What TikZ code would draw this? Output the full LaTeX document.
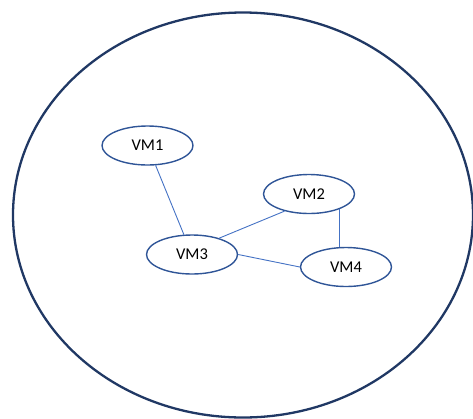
\documentclass[tikz,border=0pt]{standalone}
\usepackage{fontspec}
\setmainfont{Carlito}
\usetikzlibrary{positioning,shapes.geometric}

\definecolor{hostblue}{HTML}{203864}
\definecolor{vmblue}{HTML}{2F5597}
\definecolor{linkblue}{HTML}{4472C4}

\begin{document}
\begin{tikzpicture}[
  x=1pt, y=-1pt,
  vmstyle/.style={
        draw=vmblue,
        line width=1.4pt,
        ellipse,
        minimum width=91pt,
        minimum height=39pt,
        inner sep=0pt,
        font=\fontsize{16.5}{18}\selectfont
  },
  linkstyle/.style={
        draw=linkblue,
        line width=0.9pt
  }
]

    \useasboundingbox (0,0) rectangle (473,418);

    % the host
    \draw[hostblue, line width=2.3pt] (243,215) ellipse [x radius=230, y radius=202.5];

    \node[vmstyle] (VM1) at (147.5,145.5) {VM1};
    \node[vmstyle] (VM2) at (309,194) {VM2};
    \node[vmstyle] (VM3) at (192,254.5) {VM3};
    \node[vmstyle] (VM4) at (346,267) {VM4};

    \draw[linkstyle] (VM1) -- (VM3);
    \draw[linkstyle] (VM3.31) -- (VM2.215);
    \draw[linkstyle] (VM3.east) -- (VM4.west);
    \draw[linkstyle] (VM2.333) -- (VM2.333 |- VM4.north);
\end{tikzpicture}
\end{document}
